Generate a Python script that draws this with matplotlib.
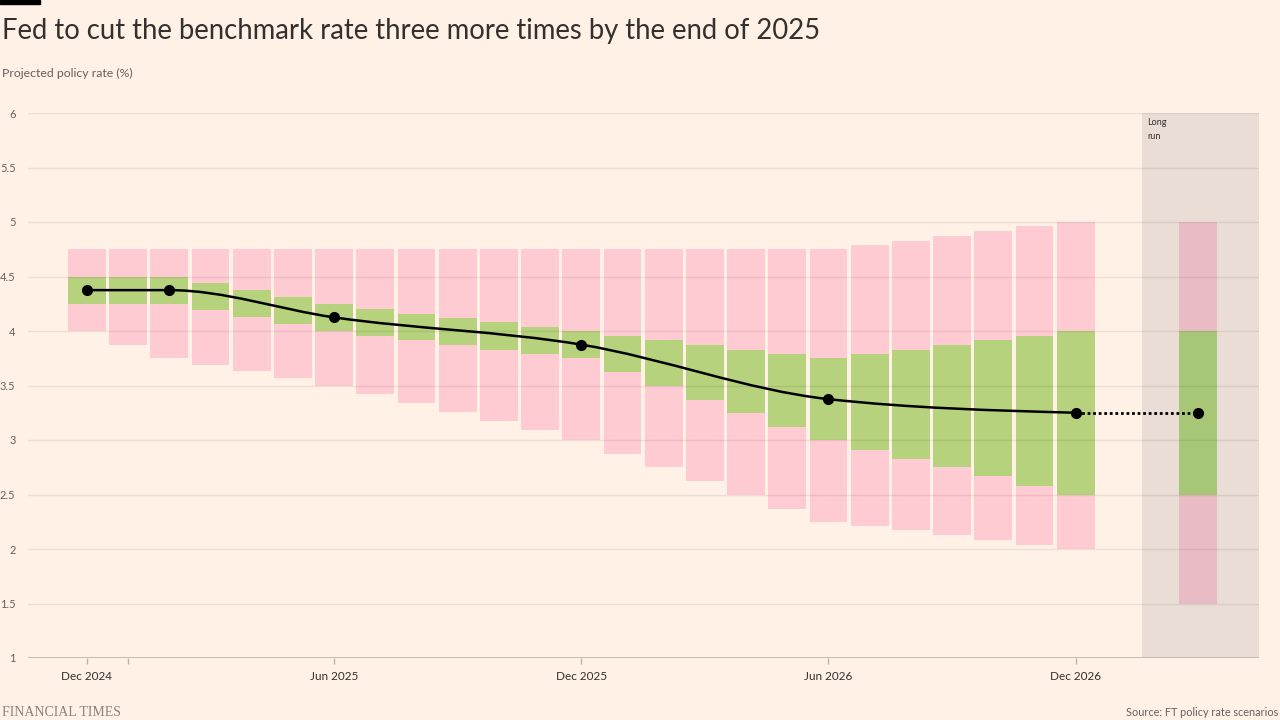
import numpy as np
import matplotlib
matplotlib.use("Agg")
import matplotlib.pyplot as plt
from matplotlib.path import Path
from matplotlib.patches import PathPatch, Rectangle

# Monthly projections, Dec 2024 .. Dec 2026
months = ["Dec 2024", "Jan 2025", "Feb 2025", "Mar 2025", "Apr 2025", "May 2025",
          "Jun 2025", "Jul 2025", "Aug 2025", "Sep 2025", "Oct 2025", "Nov 2025",
          "Dec 2025", "Jan 2026", "Feb 2026", "Mar 2026", "Apr 2026", "May 2026",
          "Jun 2026", "Jul 2026", "Aug 2026", "Sep 2026", "Oct 2026", "Nov 2026",
          "Dec 2026"]
range_high = [4.75, 4.75, 4.75, 4.75, 4.75, 4.75, 4.75, 4.75, 4.75, 4.75, 4.75, 4.75,
              4.75, 4.75, 4.75, 4.75, 4.75, 4.75, 4.75, 4.79, 4.83, 4.87, 4.92, 4.96,
              5.0]
range_low = [4.0, 3.875, 3.75, 3.69, 3.63, 3.57, 3.5, 3.42, 3.34, 3.255, 3.17, 3.09,
             3.0, 2.87, 2.75, 2.62, 2.5, 2.37, 2.25, 2.21, 2.17, 2.13, 2.08, 2.04, 2.0]
central_high = [4.5, 4.5, 4.5, 4.44, 4.38, 4.31, 4.25, 4.2, 4.16, 4.12, 4.08, 4.04,
                4.0, 3.95, 3.92, 3.87, 3.83, 3.79, 3.75, 3.79, 3.83, 3.87, 3.92, 3.95,
                4.0]
central_low = [4.25, 4.25, 4.25, 4.19, 4.13, 4.06, 4.0, 3.95, 3.92, 3.87, 3.83, 3.79,
               3.75, 3.62, 3.5, 3.37, 3.25, 3.12, 3.0, 2.91, 2.83, 2.75, 2.67, 2.58,
               2.5]

# Median path (points marked with dots)
median_months = ["Dec 2024", "Feb 2025", "Jun 2025", "Dec 2025", "Jun 2026", "Dec 2026"]
median_rate = [4.375, 4.375, 4.125, 3.875, 3.375, 3.25]

# Long run
longrun_range = (1.5, 5.0)
longrun_central = (2.5, 4.0)
longrun_median = 3.25

tick_labels = ["Dec 2024", "Jun 2025", "Dec 2025", "Jun 2026", "Dec 2026"]

BG = "#FFF1E5"
PINK = "#FECBD2"
GREEN = "#B6D27C"
LR_BAND = "#E9DDD5"
LR_PINK = "#E9BBC4"
LR_GREEN = "#A8C776"
TEXT = "#33302E"
GREY = "#66605C"


def monotone_path(xs, ys):
    """Cubic bezier path like d3.curveMonotoneX"""
    xs = np.asarray(xs, float)
    ys = np.asarray(ys, float)
    n = len(xs)
    h = np.diff(xs)
    s = np.diff(ys) / h
    t = np.zeros(n)
    for i in range(1, n - 1):
        p = (s[i - 1] * h[i] + s[i] * h[i - 1]) / (h[i - 1] + h[i])
        t[i] = (np.sign(s[i - 1]) + np.sign(s[i])) * min(abs(s[i - 1]), abs(s[i]), 0.5 * abs(p))
    t[0] = (3 * s[0] - t[1]) / 2
    t[-1] = (3 * s[-1] - t[-2]) / 2
    verts = [(xs[0], ys[0])]
    codes = [Path.MOVETO]
    for i in range(n - 1):
        dx = h[i] / 3
        verts += [(xs[i] + dx, ys[i] + dx * t[i]),
                  (xs[i + 1] - dx, ys[i + 1] - dx * t[i + 1]),
                  (xs[i + 1], ys[i + 1])]
        codes += [Path.CURVE4] * 3
    return Path(verts, codes)


fig = plt.figure(figsize=(12.8, 7.2), dpi=100, facecolor=BG)
plt.rcParams["font.family"] = ["Lato", "DejaVu Sans"]

ax = fig.add_axes([28 / 1280, 62 / 720, 1231 / 1280, 545 / 720])
ax.set_facecolor(BG)

x = np.arange(len(months))
w = 0.92
ax.bar(x, np.array(range_high) - np.array(range_low), bottom=range_low,
       width=w, color=PINK, zorder=1)
ax.bar(x, np.array(central_high) - np.array(central_low), bottom=central_low,
       width=w, color=GREEN, zorder=1.1)

# long run
lr_x = 26.97
ax.axvspan(25.6, 28.45, color=LR_BAND, zorder=0.5, lw=0)
ax.bar([lr_x], [longrun_range[1] - longrun_range[0]], bottom=longrun_range[0],
       width=0.9, color=LR_PINK, zorder=1)
ax.bar([lr_x], [longrun_central[1] - longrun_central[0]], bottom=longrun_central[0],
       width=0.9, color=LR_GREEN, zorder=1.1)
ax.text(25.73, 5.95, "Long\nrun", fontsize=6.5, color=TEXT, va="top", ha="left",
        linespacing=1.7, zorder=5)

# gridlines on top, faint
for v in np.arange(1.5, 6.01, 0.5):
    ax.axhline(v, color="#000000", alpha=0.07, lw=1, zorder=2)
ax.axhline(1, color="#BDB3AA", lw=1.2, zorder=3)

# median path
mx = [months.index(m) for m in median_months]
ax.add_patch(PathPatch(monotone_path(mx, median_rate), fill=False, lw=1.8,
                       edgecolor="black", zorder=4))
ax.plot(mx, median_rate, "o", color="black", ms=7, zorder=5)
ax.plot([mx[-1], lr_x], [median_rate[-1], longrun_median], color="black", lw=2,
        ls=(0, (1, 1)), zorder=4)
ax.plot([lr_x], [longrun_median], "o", color="black", ms=7, zorder=5)

ax.set_xlim(-1.43, 28.45)
ax.set_ylim(1, 6)
for sp in ax.spines.values():
    sp.set_visible(False)

ax.set_yticks(np.arange(1, 6.01, 0.5))
ax.set_yticklabels(["1", "1.5", "2", "2.5", "3", "3.5", "4", "4.5", "5", "5.5", "6"])
ax.tick_params(axis="y", length=0, pad=9, labelsize=8, labelcolor=GREY)

ax.set_xticks([months.index(m) for m in tick_labels])
ax.set_xticklabels(tick_labels)
ax.set_xticks([1], minor=True)
ax.tick_params(axis="x", which="both", length=4, width=1, color="#BDB3AA",
               pad=5, labelsize=8.5, labelcolor=TEXT)

# header and footer
fig.patches.append(Rectangle((0, 1 - 4 / 720), 40 / 1280, 4 / 720,
                             transform=fig.transFigure, color="black"))
fig.text(2 / 1280, 1 - 31 / 720, "Fed to cut the benchmark rate three more times by the end of 2025",
         fontsize=19.8, color=TEXT, va="center", ha="left")
fig.text(2 / 1280, 1 - 73 / 720, "Projected policy rate (%)", fontsize=8.8,
         color=GREY, va="center", ha="left")
fig.text(1278 / 1280, 1 - 713 / 720, "Source: FT policy rate scenarios", fontsize=7.8,
         color=GREY, va="center", ha="right")
fig.text(2 / 1280, 1 - 712 / 720, "FINANCIAL TIMES", fontsize=10,
         family="Liberation Serif", color="#8A837D", va="center", ha="left")

fig.savefig("out.png", dpi=100, facecolor=BG)
